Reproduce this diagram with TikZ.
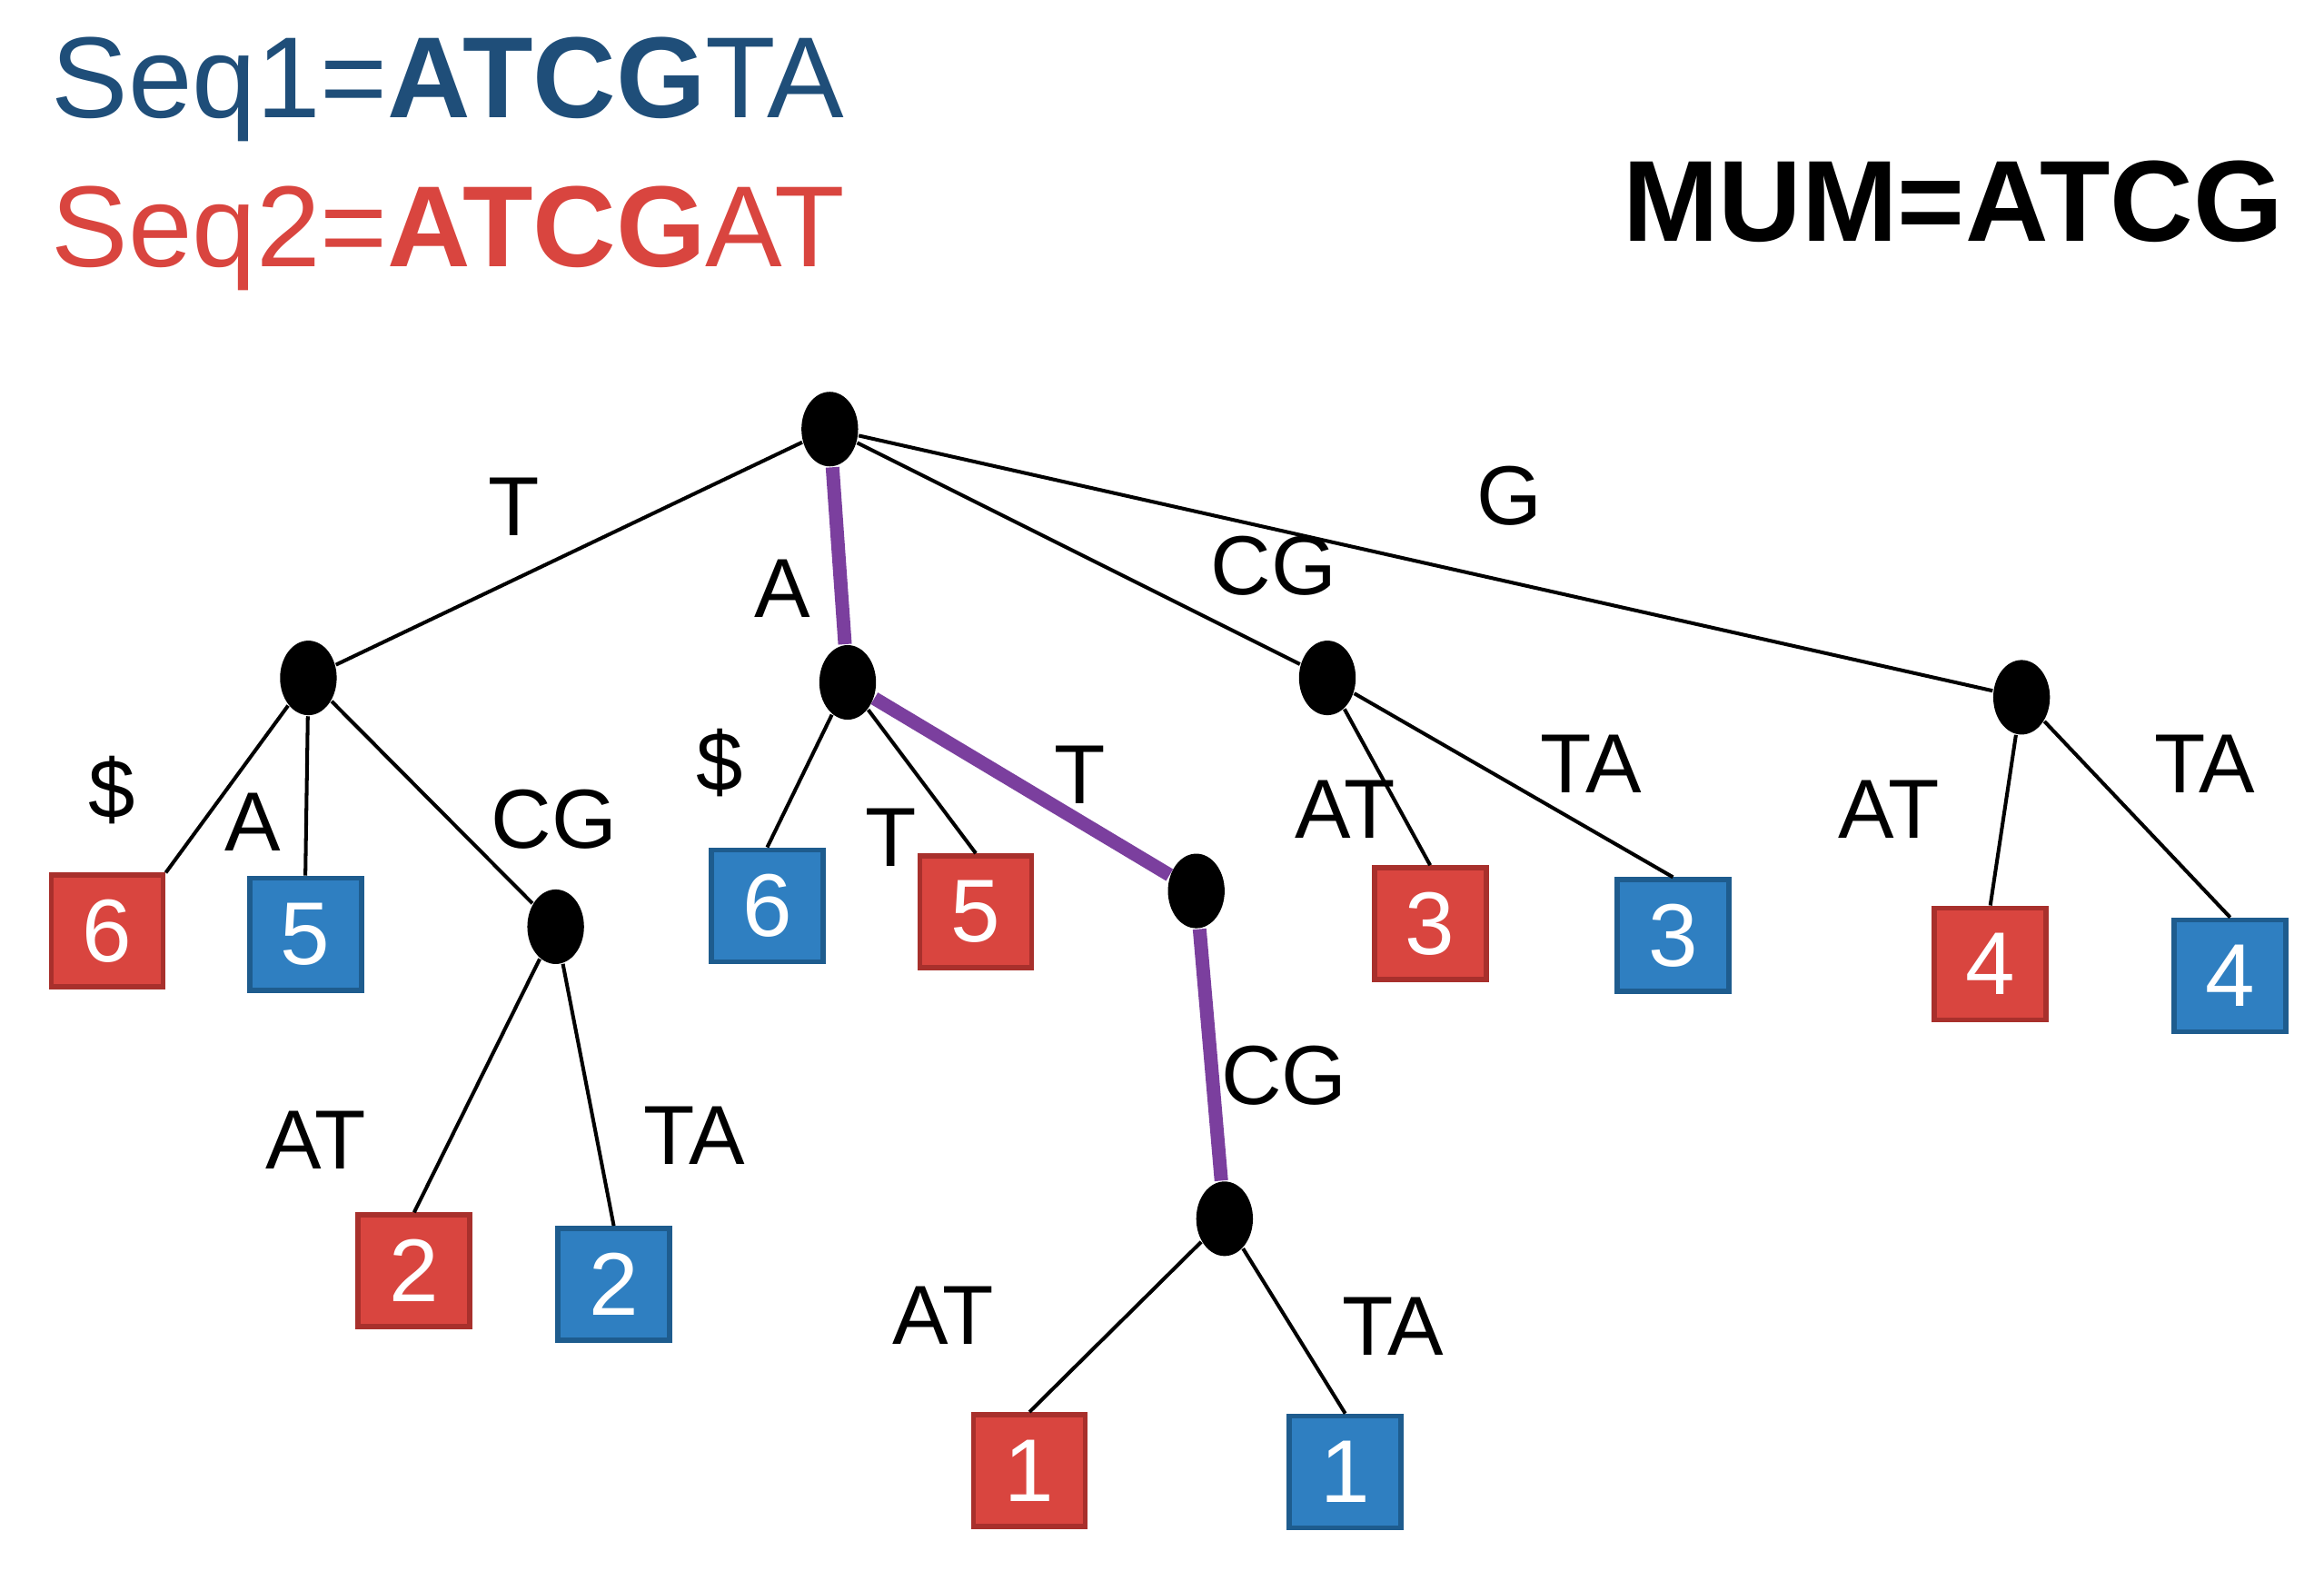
\documentclass[tikz,border=0pt]{standalone}
\usepackage{fontspec}
\setmainfont{Liberation Sans}
\usetikzlibrary{shapes.geometric}
\definecolor{rd}{HTML}{D9453F}
\definecolor{bl}{HTML}{2F7FC1}
\definecolor{rdb}{HTML}{A8302C}
\definecolor{blb}{HTML}{1E5C8E}
\definecolor{seqb}{HTML}{1F4E79}
\definecolor{pur}{HTML}{7B3F9E}
\begin{document}
\begin{tikzpicture}[x=0.01cm,y=-0.01cm,
  nd/.style={ellipse,fill=black,minimum width=0.38cm,minimum height=0.5cm,inner sep=0},
  rb/.style={draw=rdb,fill=rd,line width=1pt,minimum size=0.75cm,inner sep=0,text=white,font=\fontsize{17}{17}\selectfont},
  bb/.style={draw=blb,fill=bl,line width=1pt,minimum size=0.75cm,inner sep=0,text=white,font=\fontsize{17}{17}\selectfont},
  lb/.style={font=\fontsize{16}{16}\selectfont},
  ed/.style={line width=0.7pt},
  pe/.style={line width=2.6pt,draw=pur}]
\useasboundingbox (0,0) rectangle (1560,1054);
\node[anchor=west,text=seqb,font=\fontsize{22}{22}\selectfont] (s1) at (22,60) {Seq1=\textbf{ATCG}TA};
\node[anchor=west,text=rd,font=\fontsize{22}{22}\selectfont] (s2) at (22,160) {Seq2=\textbf{ATCG}AT};
\node[anchor=east,font=\bfseries\fontsize{22}{22}\selectfont] (mum) at (1545,135) {MUM=ATCG};
\node[nd] (r) at (557,288) {};
\node[nd] (nT) at (207,455) {};
\node[nd] (nA) at (569,458) {};
\node[nd] (nCG) at (891,455) {};
\node[nd] (nG) at (1357,468) {};
\node[nd] (nTCG) at (373,622) {};
\node[nd] (nAT) at (803,598) {};
\node[nd] (nATCG) at (822,818) {};
\node[rb] (r6) at (72,625) {6};
\node[bb] (b5) at (205,627) {5};
\node[bb] (b6) at (515,608) {6};
\node[rb] (r5) at (655,612) {5};
\node[rb] (r3) at (960,620) {3};
\node[bb] (b3) at (1123,628) {3};
\node[rb] (r4) at (1336,647) {4};
\node[bb] (b4) at (1497,655) {4};
\node[rb] (r2) at (278,853) {2};
\node[bb] (b2) at (412,862) {2};
\node[rb] (r1) at (691,987) {1};
\node[bb] (b1) at (903,988) {1};
\draw[ed] (r) -- (nT);
\draw[ed] (r) -- (nCG);
\draw[ed] (r) -- (nG);
\draw[pe] (r) -- (nA);
\draw[pe] (nA) -- (nAT);
\draw[pe] (nAT) -- (nATCG);
\draw[ed] (nT) -- (r6.north east);
\draw[ed] (nT) -- (b5.north);
\draw[ed] (nT) -- (nTCG);
\draw[ed] (nTCG) -- (r2.north);
\draw[ed] (nTCG) -- (b2.north);
\draw[ed] (nA) -- (b6.north);
\draw[ed] (nA) -- (r5.north);
\draw[ed] (nCG) -- (r3.north);
\draw[ed] (nCG) -- (b3.north);
\draw[ed] (nG) -- (r4.north);
\draw[ed] (nG) -- (b4.north);
\draw[ed] (nATCG) -- (r1.north);
\draw[ed] (nATCG) -- (b1.north);
\node[lb] (l1) at (345,340) {T};
\node[lb] (l2) at (525,395) {A};
\node[lb] (l3) at (855,380) {CG};
\node[lb] (l4) at (1013,333) {G};
\node[lb] (l5) at (75,530) {\$};
\node[lb] (l6) at (170,552) {A};
\node[lb] (l7) at (372,550) {CG};
\node[lb] (l8) at (483,512) {\$};
\node[lb] (l9) at (598,562) {T};
\node[lb] (l10) at (725,520) {T};
\node[lb] (l11) at (903,543) {AT};
\node[lb] (l12) at (1068,513) {TA};
\node[lb] (l13) at (1268,543) {AT};
\node[lb] (l14) at (1480,513) {TA};
\node[lb] (l15) at (212,765) {AT};
\node[lb] (l16) at (466,762) {TA};
\node[lb] (l17) at (862,722) {CG};
\node[lb] (l18) at (633,883) {AT};
\node[lb] (l19) at (935,890) {TA};
\end{tikzpicture}
\end{document}
